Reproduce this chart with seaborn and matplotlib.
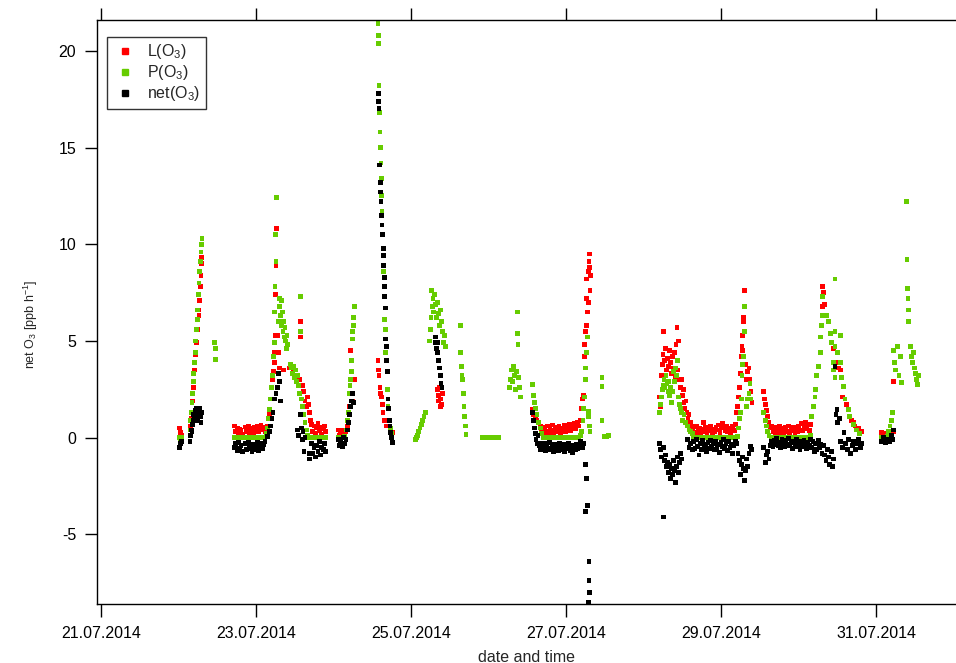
import matplotlib
matplotlib.use("Agg")
import matplotlib.pyplot as plt
import matplotlib.dates as mdates
from matplotlib.lines import Line2D
import numpy as np
import pandas as pd
import seaborn as sns

# Time axis origin: observations are stored as hours after this instant
START = pd.Timestamp("2014-07-21 00:00")

# Ozone loss rate L(O3) [ppb/h] as (hour, value)
loss_obs = [
    # 22.07 early morning and morning rise
    (24.4, 0.50), (24.7, 0.25), (25.0, 0.10),
    (27.8, 0.6), (28.0, 1.0), (28.3, 1.9), (28.6, 2.6), (28.9, 3.5), (29.2, 4.3), (29.5, 4.9),
    (29.8, 5.6), (30.0, 6.1), (30.2, 6.6), (30.4, 6.3), (30.6, 7.1), (30.8, 7.8), (31.0, 8.4),
    (31.1, 9.0), (31.2, 9.3),
    # night 22./23.07
    (41.4, 0.60), (41.8, 0.30), (42.2, 0.50), (42.6, 0.20), (43.0, 0.45), (43.4, 0.35), (43.8, 0.15),
    (44.8, 0.55), (45.2, 0.30), (45.6, 0.60), (46.0, 0.20), (46.4, 0.45), (46.8, 0.50), (47.2, 0.25),
    (47.6, 0.55), (48.0, 0.35), (48.4, 0.60), (48.8, 0.30), (49.2, 0.50), (49.6, 0.65), (50.0, 0.40),
    (50.4, 0.55), (50.8, 0.30),
    # 23.07
    (51.6, 0.6), (52.3, 1.2), (52.8, 2.0), (53.2, 3.0), (53.5, 3.4), (53.7, 3.9), (53.8, 4.4),
    (53.9, 5.3), (54.1, 7.4), (54.2, 8.9), (54.4, 10.8),
    (54.8, 5.3), (55.1, 4.4), (55.4, 3.6), (56.5, 3.5), (58.5, 3.6), (59.5, 3.4), (60.5, 3.2),
    (61.5, 3.0), (61.8, 6.0), (61.9, 5.2), (62.3, 2.7), (62.8, 2.4), (63.2, 1.9), (63.6, 1.6),
    (64.0, 2.1), (64.3, 1.7), (64.6, 1.3), (64.9, 0.9),
    (65.2, 0.70), (65.6, 0.30), (66.0, 0.60), (66.4, 0.20), (66.8, 0.50), (67.2, 0.75), (67.6, 0.35),
    (68.0, 0.55), (68.4, 0.15), (68.8, 0.45), (69.2, 0.60), (69.6, 0.30),
    # 24.07
    (73.5, 0.40), (73.9, 0.10), (74.3, 0.35), (74.7, 0.20), (75.1, 0.40), (75.5, 0.10), (75.9, 0.30),
    (76.3, 0.60), (76.5, 0.8), (77.0, 1.6), (77.3, 4.5), (77.6, 2.3), (78.0, 1.9), (78.4, 3.0),
    (85.8, 4.0), (86.0, 3.5), (86.1, 3.2), (86.4, 2.6), (86.5, 2.3), (86.9, 2.1), (87.1, 1.7),
    (87.3, 1.3), (87.7, 0.9), (88.5, 0.6), (89.5, 0.4), (90.2, 0.25),
    # 25.07
    (104.1, 2.5), (104.4, 2.2), (104.6, 1.9), (104.8, 2.6), (105.0, 1.6), (105.2, 2.0), (105.5, 1.7),
    (105.7, 2.3),
    # 26.07 evening and night 26./27.07
    (133.5, 1.45), (134.0, 1.2), (134.5, 1.0), (135.0, 0.9), (135.5, 0.8), (136.0, 0.6),
    (136.5, 0.45), (137.0, 0.20), (137.4, 0.55), (137.8, 0.30), (138.2, 0.60), (138.6, 0.25),
    (139.0, 0.50), (139.4, 0.35), (139.8, 0.65), (140.2, 0.20), (140.6, 0.45), (141.0, 0.55),
    (141.4, 0.30), (141.8, 0.60), (142.2, 0.25), (142.6, 0.50), (143.0, 0.40), (143.4, 0.65),
    (143.8, 0.30), (144.2, 0.55), (144.6, 0.45), (145.0, 0.70), (145.4, 0.35), (145.8, 0.60),
    (146.2, 0.50), (146.6, 0.75), (147.0, 0.45), (147.4, 0.80), (147.8, 0.60),
    # 27.07 morning
    (148.3, 0.9), (148.7, 1.5), (149.0, 2.0), (149.3, 2.2), (149.6, 4.2), (149.8, 4.8), (150.0, 5.5),
    (150.2, 5.8), (150.3, 7.2), (150.4, 8.2), (150.6, 6.5), (150.8, 7.0), (151.0, 8.6), (151.1, 9.1),
    (151.2, 9.5), (151.3, 8.8), (151.4, 7.6), (151.5, 8.4),
    # 28.07
    (172.8, 2.1), (173.1, 1.6), (173.4, 3.2), (173.7, 3.8), (174.0, 4.3), (174.2, 5.5), (174.5, 4.0),
    (174.8, 4.6), (175.1, 3.5), (175.4, 4.1), (175.7, 3.7), (176.0, 4.5), (176.3, 3.9), (176.6, 3.3),
    (176.9, 4.2), (177.2, 3.6), (177.5, 4.4), (177.8, 3.1), (178.0, 4.8), (178.3, 5.7), (178.5, 3.5),
    (178.8, 5.0), (179.0, 3.0), (179.3, 2.6), (179.6, 3.0), (179.9, 2.2), (180.2, 2.5), (180.5, 1.8),
    (180.8, 1.5), (181.1, 1.9), (181.4, 1.3), (181.7, 1.0), (182.0, 1.2), (182.4, 0.8), (182.8, 0.6),
    (183.2, 0.4),
    # night 28./29.07
    (183.6, 0.55), (184.0, 0.25), (184.4, 0.60), (184.8, 0.35), (185.2, 0.50), (185.6, 0.20),
    (186.0, 0.45), (186.4, 0.80), (186.8, 0.30), (187.2, 0.55), (187.6, 0.25), (188.0, 0.50),
    (188.4, 0.35), (188.8, 0.60), (189.2, 0.20), (189.6, 0.45), (190.0, 0.30), (190.4, 0.55),
    (190.8, 0.40), (191.2, 0.65), (191.6, 0.25), (192.0, 0.50), (192.4, 0.75), (192.8, 0.55),
    (193.2, 0.35), (193.6, 0.60), (194.0, 0.30), (194.4, 0.50), (194.8, 0.20), (195.2, 0.45),
    (195.6, 0.60), (196.0, 0.35), (196.4, 0.70),
    # 29.07
    (196.8, 1.3), (197.1, 1.6), (197.4, 2.1), (197.7, 2.6), (198.0, 3.3), (198.2, 4.2), (198.4, 4.7),
    (198.5, 5.3), (198.7, 4.5), (198.9, 6.0), (199.0, 6.2), (199.2, 7.6), (199.6, 3.8), (199.9, 3.0),
    (200.2, 3.4), (200.6, 3.6), (200.9, 3.0), (201.2, 2.4), (201.5, 1.8),
    (205.2, 2.4), (205.5, 2.0), (205.8, 1.7), (206.1, 1.4), (206.4, 1.1), (206.8, 0.8), (207.2, 0.5),
    # night 29./30.07
    (207.6, 0.60), (208.0, 0.30), (208.4, 0.55), (208.8, 0.20), (209.2, 0.45), (209.6, 0.35),
    (210.0, 0.60), (210.4, 0.25), (210.8, 0.50), (211.2, 0.15), (211.6, 0.40), (212.0, 0.55),
    (212.4, 0.30), (212.8, 0.60), (213.2, 0.20), (213.6, 0.45), (214.0, 0.35), (214.4, 0.55),
    (214.8, 0.25), (215.2, 0.50), (215.6, 0.30), (216.0, 0.60), (216.4, 0.40), (216.8, 0.75),
    (217.2, 0.35), (217.6, 0.55), (218.0, 0.80), (218.4, 0.45), (218.8, 0.65), (219.2, 0.35),
    # 30.07
    (219.6, 0.7), (220.0, 1.1), (220.5, 1.6), (221.0, 2.1), (221.2, 2.5), (221.6, 3.2), (222.1, 3.7),
    (222.6, 4.4), (222.8, 5.2), (223.1, 5.8), (223.3, 6.8), (223.4, 7.8), (223.6, 7.5), (224.0, 6.9),
    (224.6, 6.3), (225.1, 6.0), (225.7, 5.4), (226.2, 4.9), (226.7, 4.6), (227.2, 3.7), (227.8, 3.9),
    (228.3, 3.6), (228.8, 3.5), (229.3, 3.1), (229.6, 2.1), (230.3, 2.0), (230.8, 1.7), (231.3, 1.45),
    (231.8, 1.1), (232.4, 0.9), (232.9, 0.78), (233.4, 0.6), (233.9, 0.4), (234.4, 0.5), (234.9, 0.25),
    (235.4, 0.3),
    # 31.07
    (241.6, 0.25), (242.2, 0.05), (242.8, 0.20), (243.4, 0.10), (244.0, 0.25), (244.6, 0.15),
    (245.2, 0.30), (245.3, 2.9),
]

# Ozone production rate P(O3) [ppb/h] as (hour, value)
prod_obs = [
    (24.4, 0.0), (24.7, -0.05), (25.0, 0.0),
    (27.6, 0.4), (27.8, 0.9), (28.0, 1.3), (28.2, 1.8), (28.4, 2.3), (28.6, 2.9), (28.8, 3.3),
    (29.0, 3.9), (29.2, 4.4), (29.4, 5.0), (29.6, 5.6), (29.8, 6.1), (30.0, 6.6), (30.2, 7.4),
    (30.4, 8.0), (30.6, 8.6), (30.8, 9.1), (31.0, 9.6), (31.2, 10.0), (31.3, 10.3),
    (35.3, 4.9), (35.4, 4.6), (35.5, 4.05),
    (41.4, 0.0), (41.9, 0.0), (42.4, 0.0), (42.9, 0.0), (43.4, 0.0), (43.9, 0.0), (44.8, 0.0),
    (45.3, 0.0), (45.8, 0.0), (46.3, 0.0), (46.8, 0.0), (47.3, 0.0), (47.8, 0.0), (48.3, 0.0),
    (48.8, 0.0), (49.3, 0.0), (49.8, 0.0), (50.3, 0.0), (50.8, 0.0),
    (51.2, 0.2), (51.6, 0.5), (52.0, 1.0), (52.3, 1.45), (52.6, 2.0), (52.9, 2.6), (53.2, 3.2),
    (53.5, 4.2), (53.7, 4.9), (53.8, 6.5), (53.9, 7.8), (54.0, 10.5), (54.2, 9.1), (54.4, 12.4),
    (55.0, 6.0), (55.2, 7.2), (55.4, 6.8), (55.6, 6.3), (55.8, 7.1), (56.0, 5.8), (56.2, 6.5),
    (56.4, 5.5), (56.6, 6.0), (56.8, 5.2), (57.0, 5.7), (57.2, 5.0), (57.4, 4.6), (57.6, 5.3),
    (57.8, 4.8),
    (58.7, 3.8), (59.0, 3.6), (59.3, 3.3), (59.6, 3.7), (59.9, 3.1), (60.2, 3.5), (60.5, 2.9),
    (60.8, 3.2), (61.1, 2.7), (61.4, 2.3), (61.8, 7.3), (61.8, 5.5), (62.0, 2.0), (62.4, 1.6),
    (62.8, 1.2), (63.2, 0.8), (63.6, 0.4), (64.0, 0.1),
    (64.5, 0.0), (65.0, 0.0), (65.5, 0.0), (66.0, 0.0), (66.5, 0.0), (67.0, 0.0), (67.5, 0.0),
    (68.0, 0.0), (68.5, 0.0), (69.0, 0.0), (69.5, 0.0),
    (73.5, 0.0), (74.0, 0.0), (74.5, 0.0), (75.0, 0.0), (75.5, 0.05), (76.0, 0.4), (76.3, 0.9),
    (76.6, 1.3), (76.9, 2.3), (77.1, 2.7), (77.3, 3.0), (77.5, 3.4), (77.7, 4.0), (77.9, 5.1),
    (78.0, 5.5), (78.1, 5.8), (78.3, 6.2), (78.4, 6.8),
    (85.8, 21.4), (85.9, 20.8), (86.0, 20.4), (86.1, 18.2), (86.3, 16.8), (86.4, 15.8), (86.5, 15.0),
    (86.7, 14.2), (86.8, 13.4), (86.9, 12.5), (87.0, 11.7), (87.3, 9.4), (87.5, 8.6), (87.9, 6.1),
    (88.0, 5.6), (88.2, 4.4), (88.6, 2.5), (88.9, 1.6), (89.3, 0.9), (89.7, 0.5), (90.1, 0.2),
    (97.3, -0.1), (97.6, 0.0), (98.0, 0.1), (98.4, 0.3), (98.8, 0.5), (99.2, 0.7), (99.6, 0.9),
    (100.0, 1.1), (100.4, 1.3),
    (101.7, 5.0), (102.0, 5.6), (102.2, 6.2), (102.4, 7.6), (102.6, 6.8), (102.8, 7.2), (103.0, 6.5),
    (103.3, 7.4), (103.6, 6.9), (103.9, 6.2), (104.2, 7.0), (104.5, 6.4), (104.8, 5.8), (105.1, 6.6),
    (105.4, 6.0), (105.7, 5.5), (106.0, 4.9), (106.3, 5.3), (106.6, 4.7),
    (111.2, 5.8), (111.3, 4.4), (111.5, 3.7), (111.8, 3.2), (112.0, 3.0), (112.2, 2.3), (112.4, 1.6),
    (112.6, 1.1), (112.8, 0.6), (113.0, 0.15),
    (118.0, 0.0), (118.5, 0.0), (119.0, 0.0), (119.5, 0.0), (120.0, 0.0), (120.5, 0.0), (121.0, 0.0),
    (121.5, 0.0), (122.0, 0.0), (122.5, 0.0), (123.0, 0.0),
    (126.4, 2.6), (126.8, 3.0), (127.1, 3.5), (127.4, 2.9), (127.7, 3.7), (128.0, 3.2), (128.3, 2.5),
    (128.6, 3.4), (128.9, 6.5), (129.0, 5.4), (129.1, 4.8), (129.2, 3.1), (129.5, 2.6), (129.8, 2.1),
    (133.5, 2.75), (133.8, 2.2), (134.1, 1.8), (134.5, 1.5), (135.0, 1.2), (135.5, 0.8), (136.0, 0.5),
    (136.5, 0.2),
    (137.0, 0.0), (137.5, 0.0), (138.0, 0.0), (138.5, 0.0), (139.0, 0.0), (139.5, 0.0), (140.0, 0.0),
    (140.5, 0.0), (141.0, 0.0), (141.5, 0.0), (142.0, 0.0), (142.5, 0.0), (143.0, 0.0), (143.5, 0.0),
    (144.0, 0.0), (144.5, 0.0), (145.0, 0.0), (145.5, 0.0), (146.0, 0.0), (146.5, 0.0), (147.0, 0.0),
    (147.5, 0.0), (148.0, 0.0),
    (148.4, 0.1), (148.8, 0.3), (149.2, 0.9), (149.5, 1.5), (149.7, 2.1), (149.9, 3.0), (150.0, 3.6),
    (150.2, 4.4), (150.5, 5.2), (150.8, 1.35), (151.0, 1.1), (151.2, 0.6), (151.4, 0.3),
    (155.1, 3.1), (155.1, 2.65), (155.1, 0.9), (155.9, 0.05), (156.4, 0.05), (157.0, 0.1),
    (172.8, 1.3), (173.1, 1.7), (173.4, 2.1), (173.7, 2.5), (174.0, 2.7), (174.3, 3.0), (174.6, 2.6),
    (174.9, 3.2), (175.2, 2.8), (175.5, 2.4), (175.8, 2.9), (176.1, 2.2), (176.4, 2.6), (176.7, 1.8),
    (177.0, 2.4), (177.3, 3.4), (177.6, 2.9), (177.9, 3.6), (178.2, 3.2), (178.5, 4.0), (178.8, 2.1),
    (179.1, 1.7), (179.4, 1.5), (179.7, 1.3), (180.0, 0.9), (180.5, 1.2), (181.0, 0.8), (181.5, 0.6),
    (182.0, 0.4), (182.5, 0.3), (183.0, 0.2),
    (183.5, 0.0), (184.0, 0.0), (184.5, 0.0), (185.0, 0.0), (185.5, 0.0), (186.0, 0.0), (186.5, 0.0),
    (187.0, 0.0), (187.5, 0.0), (188.0, 0.0), (188.5, 0.0), (189.0, 0.0), (189.5, 0.0), (190.0, 0.0),
    (190.5, 0.0), (191.0, 0.0), (191.5, 0.0), (192.0, 0.0), (192.5, 0.0), (193.0, 0.0), (193.5, 0.0),
    (194.0, 0.0), (194.5, 0.0), (195.0, 0.0), (195.5, 0.0), (196.0, 0.0), (196.5, 0.0),
    (197.0, 0.05), (197.3, 0.5), (197.6, 1.0), (197.9, 1.3), (198.2, 2.0), (198.4, 3.2), (198.6, 3.8),
    (198.9, 4.2), (199.2, 5.5), (199.3, 6.8), (199.8, 1.6), (200.2, 2.0), (200.6, 2.3), (200.9, 2.8),
    (201.2, 2.0),
    (205.2, 1.3), (205.6, 0.9), (206.0, 0.6), (206.4, 0.3), (206.8, 0.1),
    (207.5, 0.0), (208.0, 0.0), (208.5, 0.0), (209.0, 0.0), (209.5, 0.0), (210.0, 0.0), (210.5, 0.0),
    (211.0, 0.0), (211.5, 0.0), (212.0, 0.0), (212.5, 0.0), (213.0, 0.0), (213.5, 0.0), (214.0, 0.0),
    (214.5, 0.0), (215.0, 0.0), (215.5, 0.0), (216.0, 0.0), (216.5, 0.0), (217.0, 0.0), (217.5, 0.0),
    (218.0, 0.0), (218.5, 0.0), (219.0, 0.0),
    (219.5, 0.1), (220.0, 1.1), (220.5, 1.6), (221.0, 2.1), (221.2, 2.5), (221.6, 3.2), (222.1, 3.7),
    (222.6, 4.4), (222.8, 5.2), (223.1, 5.8), (223.3, 6.3), (223.4, 7.3), (224.6, 6.3), (225.1, 6.0),
    (225.7, 5.4), (226.2, 4.9), (226.7, 3.9), (226.7, 3.5), (227.2, 8.2), (227.2, 5.5), (227.2, 4.7),
    (227.2, 3.1), (228.0, 4.4), (228.8, 5.3), (228.8, 3.9), (229.3, 3.1), (229.8, 2.65), (230.3, 2.0),
    (231.3, 1.45), (231.8, 1.1), (232.9, 0.7), (233.9, 0.4), (234.9, 0.2),
    (241.6, 0.0), (242.2, 0.0), (242.8, 0.0), (243.4, 0.05), (243.8, 0.3), (244.2, 0.6), (244.6, 0.9),
    (245.0, 1.3), (245.3, 4.5), (245.6, 3.9), (245.9, 3.5), (246.5, 4.7), (247.0, 3.2), (247.5, 4.2),
    (247.8, 2.85),
    (249.4, 12.2), (249.5, 9.2), (249.6, 7.7), (249.8, 7.2), (249.9, 6.6), (250.0, 6.0), (250.5, 4.7),
    (250.8, 4.2), (251.2, 3.9), (251.5, 4.4), (251.8, 3.6), (252.1, 3.3), (252.4, 3.0), (252.8, 2.75),
    (253.0, 3.2),
]

# Net ozone production rate [ppb/h] as (hour, value)
net_obs = [
    (24.4, -0.50), (24.7, -0.30), (25.0, -0.20),
    (27.6, -0.2), (27.8, 0.1), (28.0, 0.4), (28.2, 0.3), (28.4, 0.7), (28.6, 0.9), (28.8, 1.2),
    (29.0, 1.0), (29.2, 1.4), (29.4, 1.1), (29.6, 1.5), (29.8, 1.3), (30.0, 0.9), (30.2, 1.4),
    (30.4, 1.2), (30.6, 1.5), (30.8, 1.1), (31.0, 0.8), (31.2, 1.3),
    (41.4, -0.50), (41.8, -0.30), (42.2, -0.65), (42.6, -0.25), (43.0, -0.55), (43.4, -0.40),
    (43.8, -0.70), (44.8, -0.30), (45.2, -0.60), (45.6, -0.25), (46.0, -0.55), (46.4, -0.45),
    (46.8, -0.70), (47.2, -0.35), (47.6, -0.60), (48.0, -0.40), (48.4, -0.25), (48.8, -0.65),
    (49.2, -0.45), (49.6, -0.30), (50.0, -0.55), (50.4, -0.35), (50.8, -0.20),
    (51.6, 0.05), (52.2, 0.3), (52.6, 0.6), (53.0, 1.0), (53.3, 1.3), (53.8, 2.0), (54.2, 2.3),
    (54.6, 2.6), (55.0, 3.3), (55.2, 2.9), (55.5, 1.9),
    (60.9, 0.4), (61.3, 0.1), (61.8, 1.2), (62.0, 0.5), (62.3, -0.1), (62.6, 0.3), (62.9, -0.7),
    (63.2, 0.0), (64.4, -0.8), (64.7, -1.1),
    (65.2, -0.30), (65.6, -0.80), (66.0, -0.50), (66.4, -1.00), (66.8, -0.40), (67.2, -0.70),
    (67.6, -0.20), (68.0, -0.90), (68.4, -0.50), (68.8, -0.60), (69.2, -0.30), (69.6, -0.70),
    (73.5, -0.10), (73.9, -0.40), (74.3, -0.20), (74.7, -0.45), (75.1, 0.00), (75.5, -0.30),
    (75.9, -0.10), (76.3, 0.4), (76.7, 0.8), (77.0, 1.2), (77.3, 1.6), (77.6, 1.9), (77.9, 2.3),
    (78.2, 1.8),
    (85.9, 17.8), (86.0, 17.4), (86.1, 17.0), (86.2, 14.1), (86.5, 13.2), (86.6, 12.7), (86.7, 12.2),
    (86.9, 11.5), (87.0, 11.0), (87.2, 10.5), (87.4, 9.8), (87.5, 9.4), (87.6, 8.9), (87.7, 8.3),
    (87.8, 7.8), (87.9, 7.3), (88.0, 6.7), (88.2, 5.1), (88.3, 4.7), (88.5, 4.0), (88.7, 3.4),
    (88.9, 2.0), (89.1, 1.5), (89.3, 0.9), (89.5, 0.6), (89.7, 0.25), (89.9, 0.0), (90.1, -0.2),
    (90.3, -0.26),
    (103.5, 5.2), (103.7, 4.9), (103.9, 4.6), (104.1, 4.9), (104.3, 4.4), (104.6, 4.0), (104.8, 3.6),
    (105.0, 3.2), (105.3, 2.8), (105.6, 2.6),
    (133.5, 1.3), (133.8, 0.9), (134.1, 0.5), (134.4, 0.2), (134.7, -0.1), (135.0, -0.3), (135.3, 0.1),
    (135.6, -0.4), (136.0, -0.6), (136.4, -0.3),
    (136.8, -0.50), (137.2, -0.30), (137.6, -0.65), (138.0, -0.40), (138.4, -0.55), (138.8, -0.25),
    (139.2, -0.60), (139.6, -0.45), (140.0, -0.70), (140.4, -0.35), (140.8, -0.55), (141.2, -0.40),
    (141.6, -0.65), (142.0, -0.30), (142.4, -0.50), (142.8, -0.60), (143.2, -0.35), (143.6, -0.70),
    (144.0, -0.45), (144.4, -0.55), (144.8, -0.30), (145.2, -0.65), (145.6, -0.50), (146.0, -0.75),
    (146.4, -0.40), (146.8, -0.60), (147.2, -0.35), (147.6, -0.55), (148.0, -0.40), (148.5, -0.20),
    (149.0, -0.50), (149.5, -0.30),
    (149.9, -1.4), (150.2, -2.1), (150.5, -3.5), (150.0, -3.8), (151.1, -6.4), (151.1, -7.4),
    (151.2, -8.0), (150.8, -8.5),
    (173.0, -0.3), (173.3, -0.6), (173.6, -1.0), (174.2, -4.1), (174.2, -0.5), (174.5, -1.2),
    (174.8, -0.9), (175.1, -1.5), (175.4, -1.3), (175.7, -1.8), (176.0, -1.4), (176.3, -2.1),
    (176.6, -1.6), (176.9, -1.9), (177.2, -1.2), (177.5, -1.7), (177.8, -2.3), (178.1, -1.5),
    (178.4, -1.0), (178.7, -1.8), (179.0, -1.3), (179.3, -0.8), (179.6, -1.1),
    (181.5, -0.1), (182.0, -0.5), (182.5, -0.3), (183.0, -0.6),
    (183.5, -0.20), (183.9, -0.55), (184.3, -0.10), (184.7, -0.45), (185.1, -0.90), (185.5, -0.30),
    (185.9, -0.60), (186.3, -0.15), (186.7, -0.50), (187.1, -0.35), (187.5, -0.70), (187.9, -0.25),
    (188.3, -0.55), (188.7, -0.15), (189.1, -0.45), (189.5, -0.30), (189.9, -0.60), (190.3, -0.20),
    (190.7, -0.50), (191.1, -0.35), (191.5, -0.75), (191.9, -0.25), (192.3, -0.45), (192.7, -0.10),
    (193.1, -0.55), (193.5, -0.30), (193.9, -0.65), (194.3, -0.20), (194.7, -0.50), (195.1, -0.35),
    (195.5, -0.80), (195.9, -0.40), (196.3, -0.20),
    (196.8, -0.3), (197.2, -0.8), (197.6, -1.2), (198.0, -1.9), (198.3, -1.4), (198.6, -1.0),
    (198.9, -1.6), (199.3, -2.2), (199.6, -1.7), (199.9, -1.1), (200.2, -1.5), (200.6, -0.8),
    (201.0, -0.45), (201.4, -0.6),
    (205.2, -0.5), (205.6, -1.3), (206.0, -0.9), (206.4, -0.7), (206.8, -1.1), (207.2, -0.4),
    (207.6, -0.20), (208.0, -0.45), (208.4, -0.15), (208.8, -0.35), (209.2, -0.05), (209.6, -0.40),
    (210.0, -0.25), (210.4, -0.50), (210.8, -0.10), (211.2, -0.30), (211.6, -0.45), (212.0, -0.15),
    (212.4, -0.35), (212.8, -0.05), (213.2, -0.40), (213.6, -0.25), (214.0, -0.55), (214.4, -0.20),
    (214.8, -0.35), (215.2, -0.10), (215.6, -0.45), (216.0, -0.30), (216.4, -0.60), (216.8, -0.20),
    (217.2, -0.45), (217.6, -0.15), (218.0, -0.35), (218.4, -0.55), (218.8, -0.25), (219.2, -0.40),
    (219.6, -0.1), (220.0, -0.5), (220.4, -0.2), (220.8, -0.7), (221.2, -0.3), (221.6, -0.6),
    (222.0, -0.15), (222.4, -0.5), (222.8, -0.35), (223.2, -0.8), (223.6, -0.4), (224.0, -0.9),
    (224.4, -1.2), (224.8, -0.6), (225.2, -1.0), (225.6, -1.4), (226.0, -0.7), (226.4, -1.5),
    (226.8, -1.1), (227.2, 3.7), (227.5, 1.2), (227.8, 1.45), (228.1, 0.8), (228.5, 1.0),
    (229.0, -0.2), (229.5, -0.5), (230.0, 0.25), (230.5, -0.3), (231.0, -0.6), (231.5, -0.1),
    (232.0, -0.8), (232.5, -0.4), (233.0, -0.2), (233.5, -0.6), (234.0, -0.3), (234.5, -0.1),
    (235.0, -0.5), (235.5, -0.3),
    (241.6, -0.2), (242.2, 0.0), (242.8, -0.26), (243.4, -0.1), (244.0, -0.2), (244.6, 0.1),
    (245.0, -0.1), (245.2, 0.4),
]

series_labels = ["L(O$_3$)", "P(O$_3$)", "net(O$_3$)"]
series_colors = ["#ff0000", "#66cc00", "#000000"]

frames = []
for label, obs in zip(series_labels, [loss_obs, prod_obs, net_obs]):
    arr = np.array(obs)
    frames.append(pd.DataFrame({
        "time": START + pd.to_timedelta(arr[:, 0], unit="h"),
        "value": arr[:, 1],
        "series": label,
    }))
df = pd.concat(frames, ignore_index=True)

sns.set_style("ticks")
plt.rcParams["font.family"] = ["Liberation Sans", "DejaVu Sans"]
plt.rcParams["mathtext.fontset"] = "custom"
plt.rcParams["mathtext.rm"] = "Liberation Sans"
plt.rcParams["mathtext.it"] = "Liberation Sans"
plt.rcParams["axes.unicode_minus"] = False

fig = plt.figure(figsize=(9.56, 6.63), dpi=100)
ax = fig.add_axes([0.1015, 0.089, 0.898, 0.881])

sns.scatterplot(
    data=df, x="time", y="value", hue="series",
    hue_order=series_labels, palette=dict(zip(series_labels, series_colors)),
    marker="s", s=12, linewidth=0, alpha=1.0, legend=False, ax=ax,
)

ax.set_xlim(pd.Timestamp("2014-07-20 22:50"), pd.Timestamp("2014-08-01 00:30"))
ax.set_ylim(-8.6, 21.6)
ax.set_yticks([-5, 0, 5, 10, 15, 20])
ax.xaxis.set_major_locator(mdates.DayLocator(bymonthday=[21, 23, 25, 27, 29, 31]))
ax.xaxis.set_major_formatter(mdates.DateFormatter("%d.%m.%Y"))

ax.set_xlabel("date and time", fontsize=11.5, labelpad=6)
ax.set_ylabel("net O$_3$ [ppb h$^{-1}$]", fontsize=9)
ax.yaxis.set_label_coords(-0.067, 0.478)

for side in ["left", "bottom", "top"]:
    ax.spines[side].set_linewidth(1.0)
    ax.spines[side].set_color("black")
ax.spines["right"].set_visible(False)
ax.tick_params(axis="both", direction="out", length=9, width=1.0, colors="black",
               labelsize=11.5, top=True, labeltop=False, right=False)
ax.tick_params(axis="y", pad=6)
ax.tick_params(axis="x", pad=7)
ax.grid(False)

handles = [Line2D([], [], marker="s", linestyle="none", color=c, markersize=3.8)
           for c in series_colors]
leg = ax.legend(handles, series_labels, loc="upper left", bbox_to_anchor=(0.0117, 0.971),
                borderaxespad=0, frameon=True, fancybox=False, fontsize=11.5,
                handlelength=1.6, handletextpad=0.55, labelspacing=0.12,
                borderpad=0.35)
leg.get_frame().set_edgecolor("black")
leg.get_frame().set_linewidth(1.0)

fig.savefig("out.png", dpi=100)
